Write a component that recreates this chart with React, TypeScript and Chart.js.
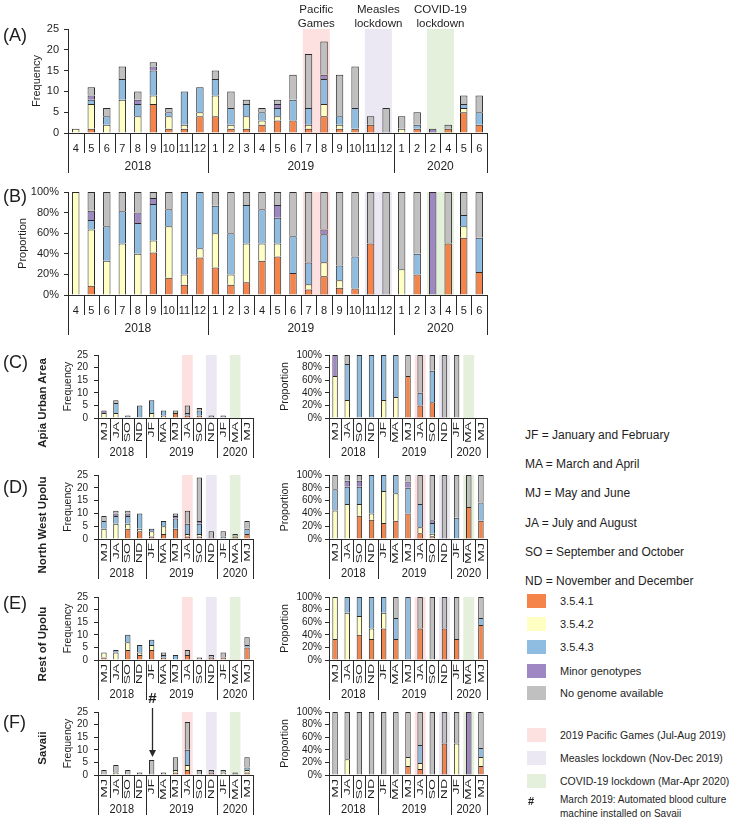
import React, { useEffect, useRef } from "react";
import { Chart, registerables } from "chart.js";
Chart.register(...registerables);

const FONT = "'Liberation Sans', Arial, sans-serif";
const INK = "#1e1e1e";
const BORDER = "#2a2a2a";

// ---------- series names & colours ----------
const seriesNames = ["3.5.4.1", "3.5.4.2", "3.5.4.3", "Minor genotypes", "No genome available"];
const seriesColors = ["#f5844a", "#ffffc4", "#8fbde2", "#9e87c3", "#c0c0c0"];

// ---------- monthly (panels A & B) ----------
const monthLabelsA = ["4", "5", "6", "7", "8", "9", "10", "11", "12", "1", "2", "3", "4", "5", "6", "7", "8", "9", "10", "11", "12", "1", "2", "2", "4", "5", "6"];
const monthLabelsB = ["4", "5", "6", "7", "8", "9", "10", "11", "12", "1", "2", "3", "4", "5", "6", "7", "8", "9", "10", "11", "12", "1", "2", "3", "4", "5", "6"];
const monthYears = ["2018", "2019", "2020"];
const monthYearSpans = [9, 12, 6];

const monthST41 = [0, 1, 0, 0, 0, 7, 1, 1, 4, 4, 1, 1, 2, 3, 3, 1, 4, 1, 1, 2, 0, 0, 1, 0, 1, 5, 2];
const monthST42 = [1, 6, 2, 8, 4, 2, 3, 1, 1, 5, 1, 3, 1, 1, 0, 1, 3, 1, 0, 0, 0, 1, 0, 0, 0, 1, 0];
const monthST43 = [0, 1, 2, 5, 3, 6, 1, 8, 6, 4, 4, 3, 2, 2, 5, 4, 6, 2, 5, 0, 0, 0, 1, 0, 0, 1, 3];
const monthMinor = [0, 1, 0, 0, 1, 1, 0, 0, 0, 0, 0, 0, 0, 1, 0, 0, 1, 0, 0, 0, 0, 0, 0, 1, 0, 0, 0];
const monthNone = [0, 2, 2, 3, 2, 1, 1, 0, 0, 2, 4, 1, 1, 1, 6, 13, 8, 10, 10, 2, 6, 3, 3, 0, 1, 2, 4];

// ---------- bimonthly (panels C-F) ----------
const biLabels = ["MJ", "JA", "SO", "ND", "JF", "MA", "MJ", "JA", "SO", "ND", "JF", "MA", "MJ"];
const biYears = ["2018", "2019", "2020"];
const biYearSpans = [4, 6, 3];

const apiaST41 = [0, 0, 0, 0, 0, 0, 2, 1, 1, 0, 0, 0, 0];
const apiaST42 = [2, 2, 0, 0, 2, 1, 0, 0, 0, 0, 0, 0, 0];
const apiaST43 = [0, 4, 1, 5, 5, 2, 0, 1, 2, 0, 0, 0, 0];
const apiaMinor = [1, 0, 0, 0, 0, 0, 0, 0, 0, 0, 0, 0, 0];
const apiaNone = [0, 1, 0, 0, 0, 0, 1, 3, 1, 1, 1, 0, 0];

const nwST41 = [0, 0, 4, 3, 1, 2, 4, 1, 1, 0, 0, 1, 2];
const nwST42 = [4, 6, 2, 1, 2, 3, 0, 1, 1, 0, 0, 0, 0];
const nwST43 = [3, 3, 3, 6, 1, 2, 4, 4, 4, 0, 1, 0, 2];
const nwMinor = [0, 1, 1, 0, 0, 0, 1, 0, 1, 0, 0, 0, 0];
const nwNone = [2, 1, 1, 0, 0, 0, 1, 5, 17, 3, 2, 1, 3];

const restST41 = [1, 0, 4, 2, 4, 1, 0, 2, 0, 1, 1, 0, 5];
const restST42 = [2, 3, 3, 1, 2, 0, 0, 0, 0, 0, 0, 0, 0];
const restST43 = [0, 1, 3, 3, 2, 1, 2, 0, 0, 0, 0, 0, 1];
const restMinor = [0, 0, 0, 0, 0, 0, 0, 0, 0, 0, 0, 0, 0];
const restNone = [0, 0, 0, 0, 0, 1, 0, 2, 1, 1, 2, 0, 3];

const savST41 = [0, 0, 0, 0, 0, 0, 1, 2, 0, 1, 0, 0, 1];
const savST42 = [0, 1, 0, 0, 0, 0, 1, 2, 0, 0, 1, 0, 1];
const savST43 = [0, 0, 0, 0, 0, 0, 0, 6, 0, 0, 0, 0, 1];
const savMinor = [0, 0, 0, 0, 0, 0, 0, 0, 0, 0, 0, 1, 0];
const savNone = [2, 3, 2, 1, 6, 1, 5, 11, 2, 1, 1, 0, 4];

// ---------- event shading ----------
const PINK = "#fde1e1";
const LAVENDER = "#ebe8f3";
const GREEN = "#e5f0dc";
const monthShades = [
  { from: 15, to: 16, color: PINK, text: ["Pacific", "Games"] },
  { from: 19, to: 20, color: LAVENDER, text: ["Measles", "lockdown"] },
  { from: 23, to: 24, color: GREEN, text: ["COVID-19", "lockdown"] },
];
const biShades = [
  { from: 7, to: 7, color: PINK },
  { from: 9, to: 9, color: LAVENDER },
  { from: 11, to: 11, color: GREEN },
];

type Shade = { from: number; to: number; color: string; text?: string[] };
type Spec = {
  id: string;
  canvas: [number, number, number, number];
  plot: [number, number, number, number];
  titleX: number;
  labels: string[];
  series: number[][];
  proportion: boolean;
  yMax: number;
  yStep: number;
  yTitle: string;
  years: string[];
  yearSpans: number[];
  shades: Shade[];
  shadeInset: number;
  barPct: number;
  manualMonths: boolean;
  monthScaleX: number;
  yearScaleX: number;
  tickSize: number;
  monthSize: number;
  yearSize: number;
  titleSize: number;
  yTickPad: number;
  xTickPad: number;
  monthLine: number;
  groupLine: number;
  yearOffset: number;
  arrowIndex?: number;
};

function StackedChart({ spec }: { spec: Spec }) {
  const ref = useRef<HTMLCanvasElement>(null);
  const [cl, ct, cw, ch] = spec.canvas;
  useEffect(() => {
    const s = spec;
    const [pl, pt, pr, pb] = s.plot;
    const n = s.labels.length;
    const totals = s.labels.map((_, i) => s.series.reduce((a, ser) => a + ser[i], 0));
    const datasets = s.series.map((ser, k) => ({
      label: seriesNames[k],
      data: ser.map((v, i) => (v === 0 ? null : s.proportion ? (v / totals[i]) * 100 : v)),
      backgroundColor: seriesColors[k],
      borderColor: BORDER,
      borderWidth: { top: 1, left: 1, right: 1, bottom: 0 },
      borderSkipped: false as const,
      barPercentage: s.barPct,
      categoryPercentage: 1,
    }));
    const titleLH = s.titleSize * 1.2;
    const padLeft = Math.max(0, Math.round(s.titleX - cl - titleLH / 2));
    const yWidth = pl - cl - padLeft;
    const xHeight = ct + ch - pb;

    const plugin = {
      id: "groups_" + s.id,
      beforeDatasetsDraw(chart: any) {
        const { ctx, chartArea } = chart;
        const xs = chart.scales.x;
        const half = (xs.getPixelForValue(1) - xs.getPixelForValue(0)) / 2;
        ctx.save();
        s.shades.forEach((sh) => {
          const x0 = xs.getPixelForValue(sh.from) - half + s.shadeInset;
          const x1 = xs.getPixelForValue(sh.to) + half - s.shadeInset;
          ctx.fillStyle = sh.color;
          ctx.fillRect(x0, chartArea.top, x1 - x0, chartArea.bottom - chartArea.top);
        });
        ctx.restore();
      },
      afterDraw(chart: any) {
        const { ctx, chartArea } = chart;
        const xs = chart.scales.x;
        const ys = chart.scales.y;
        const half = (xs.getPixelForValue(1) - xs.getPixelForValue(0)) / 2;
        const boundary = (i: number) =>
          i < n ? xs.getPixelForValue(i) - half : xs.getPixelForValue(n - 1) + half;
        const groupStarts = new Set<number>();
        let acc = 0;
        groupStarts.add(0);
        s.yearSpans.forEach((sp) => {
          acc += sp;
          groupStarts.add(acc);
        });
        const axisY = ys.getPixelForValue(0);
        ctx.save();
        ctx.strokeStyle = BORDER;
        ctx.lineWidth = 1;
        const yb = Math.round(axisY);
        for (let i = 0; i <= n; i++) {
          const bx = Math.round(boundary(i)) + 0.5;
          const len = groupStarts.has(i) ? s.groupLine : s.monthLine;
          ctx.beginPath();
          ctx.moveTo(bx, yb);
          ctx.lineTo(bx, yb + len);
          ctx.stroke();
        }
        ctx.fillStyle = INK;
        // rotated month labels (sub-panels)
        if (s.manualMonths) {
          ctx.font = `${s.monthSize}px ${FONT}`;
          ctx.textAlign = "right";
          ctx.textBaseline = "middle";
          s.labels.forEach((lab, i) => {
            ctx.save();
            ctx.translate(xs.getPixelForValue(i), axisY + 4);
            ctx.scale(s.monthScaleX, 1);
            ctx.rotate(-Math.PI / 2);
            ctx.fillText(lab, 0, 0);
            ctx.restore();
          });
        }
        ctx.font = `${s.yearSize}px ${FONT}`;
        ctx.textAlign = "center";
        ctx.textBaseline = "middle";
        let start = 0;
        s.yearSpans.forEach((sp, gi) => {
          const cx = (boundary(start) + boundary(start + sp)) / 2;
          ctx.save();
          ctx.translate(cx, axisY + s.yearOffset);
          ctx.scale(s.yearScaleX, 1);
          ctx.fillText(s.years[gi], 0, 0);
          ctx.restore();
          start += sp;
        });
        // event annotations above plot
        ctx.font = `11.5px ${FONT}`;
        s.shades.forEach((sh) => {
          if (!sh.text) return;
          const cx = (xs.getPixelForValue(sh.from) + xs.getPixelForValue(sh.to)) / 2;
          sh.text.forEach((t, li) => {
            ctx.fillText(t, cx, chartArea.top - 19 + li * 13.5);
          });
        });
        // arrow annotation
        if (s.arrowIndex !== undefined) {
          const ax = Math.round(xs.getPixelForValue(s.arrowIndex)) + 0.5;
          const yEnd = ys.getPixelForValue(totals[s.arrowIndex]) - 3;
          const yStart = chartArea.top - 4;
          ctx.font = `bold 15px ${FONT}`;
          ctx.fillText("#", ax, chartArea.top - 13);
          ctx.lineWidth = 1.3;
          ctx.beginPath();
          ctx.moveTo(ax, yStart);
          ctx.lineTo(ax, yEnd - 2);
          ctx.stroke();
          ctx.fillStyle = BORDER;
          ctx.beginPath();
          ctx.moveTo(ax - 3.5, yEnd - 7);
          ctx.lineTo(ax + 3.5, yEnd - 7);
          ctx.lineTo(ax, yEnd);
          ctx.closePath();
          ctx.fill();
        }
        ctx.restore();
      },
    };

    const yTicks: any = {
      stepSize: s.yStep,
      autoSkip: false,
      maxTicksLimit: 50,
      font: { family: FONT, size: s.tickSize },
      color: INK,
      padding: s.yTickPad,
    };
    if (s.proportion) yTicks.callback = (v: any) => v + "%";

    const chart = new Chart(ref.current as HTMLCanvasElement, {
      type: "bar",
      data: { labels: s.labels, datasets: datasets as any },
      options: {
        responsive: false,
        animation: false,
        devicePixelRatio: 1,
        events: [],
        layout: {
          padding: { left: padLeft, top: pt - ct, right: cl + cw - pr, bottom: 0 },
        },
        plugins: { legend: { display: false }, tooltip: { enabled: false } },
        scales: {
          x: {
            stacked: true,
            offset: true,
            grid: { display: false },
            border: { display: true, color: BORDER, width: 1 },
            ticks: {
              display: !s.manualMonths,
              autoSkip: false,
              maxRotation: 0,
              minRotation: 0,
              padding: s.xTickPad,
              font: { family: FONT, size: s.monthSize },
              color: INK,
            },
            afterFit: (sc: any) => {
              sc.height = xHeight;
            },
          } as any,
          y: {
            stacked: true,
            min: 0,
            max: s.yMax,
            ticks: yTicks,
            grid: { display: true, drawOnChartArea: false, drawTicks: true, tickLength: 4, color: BORDER },
            border: { display: true, color: BORDER, width: 1 },
            title: {
              display: true,
              text: s.yTitle,
              font: { family: FONT, size: s.titleSize },
              color: INK,
              padding: { top: 0, bottom: 0 },
            },
            afterFit: (sc: any) => {
              sc.width = yWidth;
            },
          } as any,
        },
      },
      plugins: [plugin],
    });
    return () => chart.destroy();
  }, [spec]);
  return (
    <canvas
      ref={ref}
      width={cw}
      height={ch}
      style={{ position: "absolute", left: cl, top: ct, width: cw, height: ch }}
    />
  );
}

const monthlySeries = [monthST41, monthST42, monthST43, monthMinor, monthNone];

const baseMonthly = {
  years: monthYears,
  yearSpans: monthYearSpans,
  shades: monthShades,
  shadeInset: 2,
  barPct: 0.48,
  manualMonths: false,
  monthScaleX: 1,
  yearScaleX: 1,
  tickSize: 11,
  monthSize: 11,
  yearSize: 12,
  titleSize: 11,
  yTickPad: 5,
  xTickPad: 1,
  monthLine: 20,
  groupLine: 40,
  yearOffset: 34,
  series: monthlySeries,
};

const specA: Spec = {
  ...baseMonthly,
  id: "A",
  canvas: [0, 0, 500, 180],
  plot: [68, 29, 487, 133],
  titleX: 37,
  labels: monthLabelsA,
  proportion: false,
  yMax: 25,
  yStep: 5,
  yTitle: "Frequency",
};
const specB: Spec = {
  ...baseMonthly,
  id: "B",
  shades: monthShades.map((s) => ({ from: s.from, to: s.to, color: s.color })),
  canvas: [0, 180, 500, 160],
  plot: [68, 192, 487, 295],
  titleX: 23,
  labels: monthLabelsB,
  proportion: true,
  yMax: 100,
  yStep: 20,
  yTitle: "Proportion",
};

const baseBi = {
  labels: biLabels,
  years: biYears,
  yearSpans: biYearSpans,
  shades: biShades,
  shadeInset: 0.6,
  barPct: 0.45,
  manualMonths: true,
  monthScaleX: 0.68,
  yearScaleX: 0.85,
  tickSize: 10,
  monthSize: 14,
  yearSize: 13,
  titleSize: 10.5,
  xTickPad: 4,
  monthLine: 23,
  groupLine: 40,
  yearOffset: 34,
};

const regions = [
  { key: "C", letter: "(C)", name: "Apia Urban Area", top: 355, bottom: 418, letterY: 362, nameY: 403, series: [apiaST41, apiaST42, apiaST43, apiaMinor, apiaNone] },
  { key: "D", letter: "(D)", name: "North West Upolu", top: 475, bottom: 539, letterY: 487, nameY: 525, series: [nwST41, nwST42, nwST43, nwMinor, nwNone] },
  { key: "E", letter: "(E)", name: "Rest of Upolu", top: 597, bottom: 660, letterY: 603, nameY: 644, series: [restST41, restST42, restST43, restMinor, restNone] },
  { key: "F", letter: "(F)", name: "Savaii", top: 712, bottom: 775, letterY: 722, nameY: 748, series: [savST41, savST42, savST43, savMinor, savNone] },
];

const regionSpecs: Spec[] = [];
regions.forEach((r) => {
  const ctop = r.key === "F" ? r.top - 24 : r.top - 12;
  const cbottom = Math.min(820, r.bottom + 45);
  regionSpecs.push({
    ...baseBi,
    id: r.key + "f",
    canvas: [55, ctop, 208, cbottom - ctop],
    plot: [98, r.top, 253, r.bottom],
    titleX: 68,
    series: r.series,
    proportion: false,
    yMax: 25,
    yStep: 5,
    yTitle: "Frequency",
    yTickPad: 6,
    arrowIndex: r.key === "F" ? 4 : undefined,
  });
  regionSpecs.push({
    ...baseBi,
    id: r.key + "p",
    canvas: [272, ctop, 225, cbottom - ctop],
    plot: [329, r.top, 487, r.bottom],
    titleX: 285,
    series: r.series,
    proportion: true,
    yMax: 100,
    yStep: 20,
    yTitle: "Proportion",
    yTickPad: 3,
  });
});

const allSpecs = [specA, specB, ...regionSpecs];

const abbreviations = [
  "JF = January and February",
  "MA = March and April",
  "MJ = May and June",
  "JA = July and August",
  "SO = September and October",
  "ND = November and December",
];
const abbrevY = [436, 465, 494, 524, 553, 582];
const legendY = [601, 624, 647, 671, 693];
const shadeLegend = [
  { color: PINK, text: "2019 Pacific Games (Jul-Aug 2019)" },
  { color: LAVENDER, text: "Measles lockdown (Nov-Dec 2019)" },
  { color: GREEN, text: "COVID-19 lockdown (Mar-Apr 2020)" },
];
const shadeLegendY = [735, 758, 781];

function Txt({ x, y, children, size, bold, rotate }: any) {
  return (
    <div
      style={{
        position: "absolute",
        left: x,
        top: y,
        fontSize: size,
        fontWeight: bold ? "bold" : "normal",
        lineHeight: 1.15,
        whiteSpace: "nowrap",
        transform: rotate ? "translate(-50%, -50%) rotate(-90deg)" : "translate(0, -50%)",
        color: INK,
      }}
    >
      {children}
    </div>
  );
}

export default function App() {
  return (
    <div
      style={{
        position: "absolute",
        left: 0,
        top: 0,
        width: 750,
        height: 820,
        background: "#fff",
        fontFamily: FONT,
        overflow: "hidden",
      }}
    >
      {allSpecs.map((s) => (
        <StackedChart key={s.id} spec={s} />
      ))}
      <Txt x={3} y={35} size={18}>(A)</Txt>
      <Txt x={3} y={196} size={18}>(B)</Txt>
      {regions.map((r) => (
        <React.Fragment key={r.key}>
          <Txt x={3} y={r.letterY} size={18}>{r.letter}</Txt>
          <Txt x={43} y={r.nameY} size={11.5} bold rotate>{r.name}</Txt>
        </React.Fragment>
      ))}
      {abbreviations.map((a, i) => (
        <Txt key={a} x={525} y={abbrevY[i]} size={12}>{a}</Txt>
      ))}
      {seriesNames.map((nm, i) => (
        <React.Fragment key={nm}>
          <div style={{ position: "absolute", left: 527, top: legendY[i] - 7, width: 19, height: 14, background: seriesColors[i] }} />
          <Txt x={560} y={legendY[i]} size={11}>{nm}</Txt>
        </React.Fragment>
      ))}
      {shadeLegend.map((s, i) => (
        <React.Fragment key={s.text}>
          <div style={{ position: "absolute", left: 527, top: shadeLegendY[i] - 7, width: 19, height: 14, background: s.color }} />
          <Txt x={560} y={shadeLegendY[i]} size={10.5}>{s.text}</Txt>
        </React.Fragment>
      ))}
      <Txt x={528} y={801} size={11} bold>#</Txt>
      <Txt x={560} y={800} size={10}>March 2019: Automated blood culture</Txt>
      <Txt x={560} y={814} size={10}>machine installed on Savaii</Txt>
    </div>
  );
}
